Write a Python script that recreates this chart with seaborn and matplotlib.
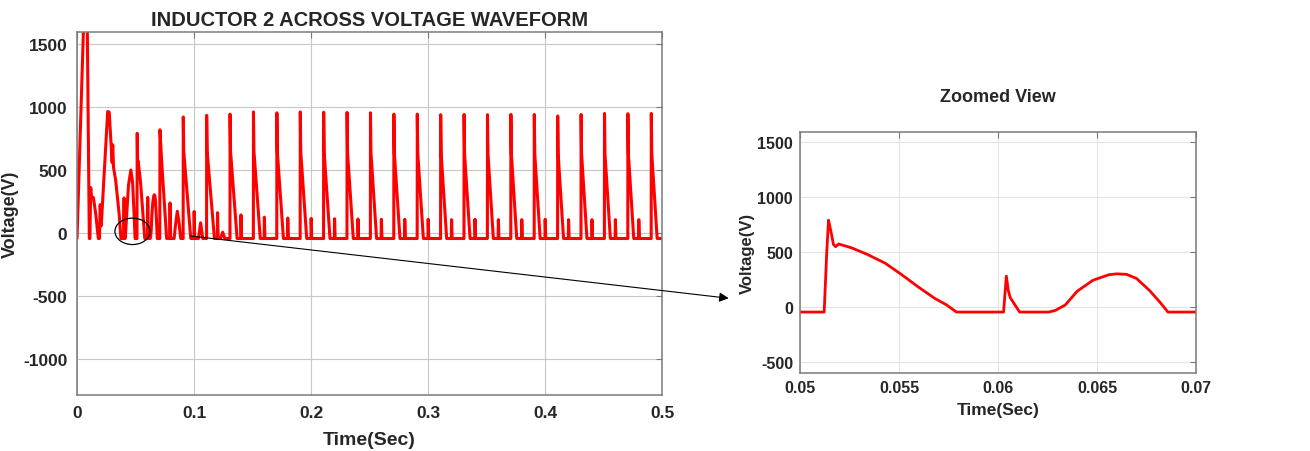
import numpy as np
import pandas as pd
import matplotlib
matplotlib.use("Agg")
import matplotlib.pyplot as plt
import seaborn as sns
from matplotlib.patches import Ellipse

# ---------------- data ----------------
BASE = -45  # clamp level of the waveform (V)

# start-up transient, 0 .. 0.05 s
t_start = [0.0, 0.0055, 0.0075, 0.0088, 0.0105, 0.0110, 0.0117, 0.0122, 0.0140, 0.0160,
           0.0182, 0.0192, 0.0198, 0.0207, 0.0262, 0.0275, 0.0300, 0.0305, 0.0312, 0.0330,
           0.0360, 0.0375, 0.0397, 0.0402, 0.0407, 0.0412, 0.0425, 0.0440, 0.0460, 0.0475,
           0.0490, 0.0496]
v_start = [-45, 1620, 2000, 1620, -45, -45, 360, 290, 280, 150,
           -45, -45, 225, 55, 965, 960, 560, 700, 520, 420,
           150, -45, -45, 278, -45, -45, 150, 380, 500, 400,
           100, -45]

# detailed window shown in the zoomed view, 0.05 .. 0.07 s
t_zoom = [0.0500, 0.05122, 0.05135, 0.05144, 0.05155, 0.05169, 0.05180, 0.05195, 0.0526, 0.0534,
          0.0543, 0.0551, 0.0560, 0.0568, 0.0574, 0.0579, 0.06028, 0.06042, 0.06052, 0.06062,
          0.06109, 0.06256, 0.0629, 0.0634, 0.0640, 0.0648, 0.0656, 0.0660, 0.0665, 0.0670,
          0.06766, 0.0682, 0.06858, 0.0700]
v_zoom = [-45, -45, 500, 792, 700, 570, 550, 575, 540, 480,
          400, 300, 180, 80, 20, -45, -45, 282, 150, 85,
          -45, -45, -30, 20, 145, 245, 295, 303, 298, 260,
          150, 40, -45, -45]

# transient continued, 0.07 .. 0.09 s
t_mid = [0.0707, 0.0709, 0.0723, 0.0766, 0.0792, 0.0795, 0.0799, 0.0830, 0.0840, 0.0857,
         0.0872, 0.0886]
v_mid = [-45, 820, 570, -45, -45, 238, -45, -45, 50, 172,
         80, -45]

# quasi steady cycles (one large spike every 20 ms)
spike_times = [0.0908, 0.1108, 0.1308, 0.1508, 0.1708, 0.1908, 0.2108, 0.2308, 0.2508, 0.2708,
               0.2908, 0.3108, 0.3308, 0.3508, 0.3708, 0.3908, 0.4108, 0.4308, 0.4508, 0.4708,
               0.4908]
spike_peaks = [922, 935, 945, 962, 955, 962, 960, 958, 955, 945,
               945, 940, 942, 940, 942, 942, 930, 942, 950, 948,
               950]
spike_drop = [650, 650, 650, 650, 645, 645, 640, 640, 640, 635,
              635, 630, 630, 630, 630, 630, 625, 630, 630, 630,
              630]
decay_time = [0.0064, 0.0066, 0.0060, 0.0058, 0.0056, 0.0055, 0.0054, 0.0053, 0.0052, 0.0052,
              0.0052, 0.0051, 0.0051, 0.0050, 0.0050, 0.0050, 0.0050, 0.0050, 0.0050, 0.0050,
              0.0050]
small_spike = [170, 160, 143, 125, 118, 115, 112, 110, 108, 108,
               108, 105, 108, 105, 105, 108, 105, 105, 105, 105]
hump_times = [0.1056, 0.1245]
hump_peaks = [80, 5]

# ---------------- build the series ----------------
pts = list(zip(t_start, v_start)) + list(zip(t_zoom, v_zoom)) + list(zip(t_mid, v_mid))
for k, ts in enumerate(spike_times):
    pts += [(ts - 0.0001, BASE), (ts, spike_peaks[k]), (ts + 0.0004, spike_drop[k]),
            (ts + decay_time[k], BASE)]
    if k < len(small_spike):
        pts += [(ts + 0.0091, BASE), (ts + 0.0093, small_spike[k]), (ts + 0.0098, BASE)]
for th, vh in zip(hump_times, hump_peaks):
    pts += [(th - 0.0018, BASE), (th, vh), (th + 0.0018, BASE)]
pts.append((0.5, BASE))
pts.sort(key=lambda p: p[0])
df = pd.DataFrame(pts, columns=["t", "v"])
dz = pd.DataFrame({"t": t_zoom, "v": v_zoom})

# ---------------- styling ----------------
sns.set_theme(style="white")
plt.rcParams["font.family"] = ["Liberation Sans", "DejaVu Sans"]
plt.rcParams["font.weight"] = "bold"
plt.rcParams["axes.unicode_minus"] = False

fig = plt.figure(figsize=(13.1, 4.52), dpi=100)
ax1 = fig.add_axes([0.0588, 0.1239, 0.4466, 0.8031])
ax2 = fig.add_axes([0.6107, 0.1726, 0.3023, 0.5332])

RED = "#ff0000"
sns.lineplot(data=df, x="t", y="v", ax=ax1, color=RED, lw=2.2, estimator=None, sort=False)
sns.lineplot(data=dz, x="t", y="v", ax=ax2, color=RED, lw=2.0, estimator=None, sort=False)


def style(ax, grid_col, fs, pad):
    for s in ax.spines.values():
        s.set_color("#7a7a7a")
        s.set_linewidth(1.1)
    ax.grid(True, color=grid_col, lw=0.8)
    ax.set_axisbelow(True)
    ax.tick_params(direction="in", length=4, width=0.8, color="#7a7a7a",
                   top=True, right=True, labelsize=fs, labelcolor="#262626", pad=pad)
    for lab in ax.get_xticklabels() + ax.get_yticklabels():
        lab.set_fontweight("bold")


ax1.set_xlim(0, 0.5)
ax1.set_ylim(-1290, 1598)
ax1.set_xticks([0, 0.1, 0.2, 0.3, 0.4, 0.5])
ax1.set_xticklabels(["0", "0.1", "0.2", "0.3", "0.4", "0.5"])
ax1.set_yticks([-1000, -500, 0, 500, 1000, 1500])
style(ax1, "#c8c8c8", 12.5, 7)
ax1.set_xlabel("Time(Sec)", fontsize=14, fontweight="bold", labelpad=8)
ax1.set_ylabel("Voltage(V)", fontsize=13, fontweight="bold")
ax1.yaxis.set_label_coords(-0.1, 0.5)
ax1.set_title("INDUCTOR 2 ACROSS VOLTAGE WAVEFORM", fontsize=14.5, fontweight="bold", pad=5)

ax2.set_xlim(0.05, 0.07)
ax2.set_ylim(-600, 1595)
ax2.set_xticks([0.05, 0.055, 0.06, 0.065, 0.07])
ax2.set_xticklabels(["0.05", "0.055", "0.06", "0.065", "0.07"])
ax2.set_yticks([-500, 0, 500, 1000, 1500])
style(ax2, "#e3e3e3", 11.5, 5)
ax2.set_xlabel("Time(Sec)", fontsize=12.5, fontweight="bold", labelpad=5)
ax2.set_ylabel("Voltage(V)", fontsize=12, fontweight="bold", labelpad=2)
ax2.set_title("Zoomed View", fontsize=13, fontweight="bold", pad=22)

# marker ellipse and pointer arrow
ax1.add_patch(Ellipse((0.0474, 12), width=0.030, height=210, fill=False,
                      edgecolor="black", lw=0.9, zorder=5))
ax1.annotate("", xy=(-0.18, 0.31), xycoords=ax2.transAxes,
             xytext=(0.097, -25), textcoords="data",
             arrowprops=dict(arrowstyle="-|>", color="black", lw=0.8,
                             mutation_scale=14, shrinkA=0, shrinkB=0),
             annotation_clip=False, zorder=6)

fig.savefig("out.png", dpi=100, facecolor="white")
